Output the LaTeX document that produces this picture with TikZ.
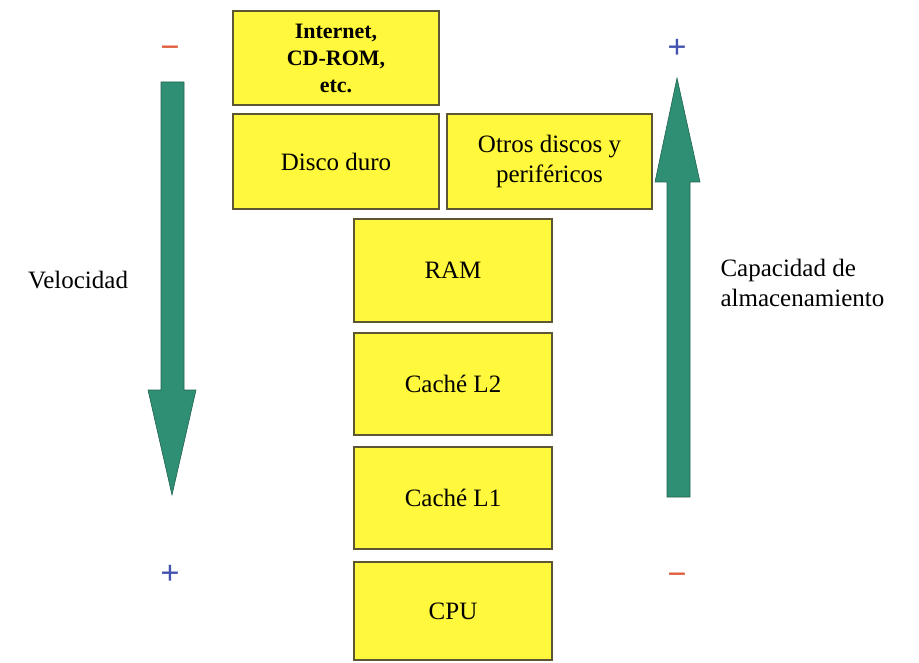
\documentclass[tikz,border=0pt]{standalone}
\usepackage{fontspec}
\setmainfont{Liberation Serif}
\usepackage{tikz}
\usetikzlibrary{positioning}
\definecolor{boxyellow}{HTML}{FFF83C}
\definecolor{boxline}{HTML}{5C5634}
\definecolor{arrowgreen}{HTML}{2F8F74}
\definecolor{minusred}{HTML}{E0603E}
\definecolor{plusblue}{HTML}{4452B0}

\tikzset{
    level/.style={draw=boxline, fill=boxyellow, line width=1.5pt, align=center,
        inner sep=2pt, font=\fontsize{25}{30}\selectfont},
    sign/.style={font=\bfseries\fontsize{34}{34}\selectfont}
}

\begin{document}
\begin{tikzpicture}[x=1pt,y=-1pt]
    \useasboundingbox (0,0) rectangle (919,663);

    \node (net) at (336,58) [level, minimum width=206, minimum height=94,
        font=\bfseries\fontsize{22}{27}\selectfont]{Internet,\\CD-ROM,\\etc.};
    \node (hd) at (336,161.5) [level, minimum width=206, minimum height=95]{Disco duro};
    \node (otros) at (549.5,161.5) [level, minimum width=205, minimum height=95]{Otros discos y\\perif\'ericos};
    \node (ram) at (453,270.5) [level, minimum width=198, minimum height=103]{RAM};
    \node (l2) at (453,384) [level, minimum width=198, minimum height=102]{Cach\'e L2};
    \node (l1) at (453,498) [level, minimum width=198, minimum height=102]{Cach\'e L1};
    \node (cpu) at (453,611) [level, minimum width=198, minimum height=98]{CPU};

    % velocidad
    \fill[arrowgreen, draw=arrowgreen!70!black, line width=0.6pt]
        (161,82) -- (184,82) -- (184,390) -- (196,390) -- (172,495)
        -- (148,390) -- (161,390) -- cycle;
    \node (vmin) at (170,52) [sign, text=minusred]{−};
    \node (vplus) at (170,575) [sign, text=plusblue]{+};
    \node (vel) at (78,280) [font=\fontsize{25}{30}\selectfont]{Velocidad};

    % capacidad
    \fill[arrowgreen, draw=arrowgreen!70!black, line width=0.6pt]
        (667,497) -- (690,497) -- (690,182) -- (700,182) -- (677,78)
        -- (655,182) -- (667,182) -- cycle;
    \node (cplus) at (677,49) [sign, text=plusblue]{+};
    \node (cmin) at (677,579) [sign, text=minusred]{−};
    \node (cap) at (717,283) [anchor=west, align=left,
        font=\fontsize{25}{30}\selectfont]{Capacidad de\\almacenamiento};
\end{tikzpicture}
\end{document}
